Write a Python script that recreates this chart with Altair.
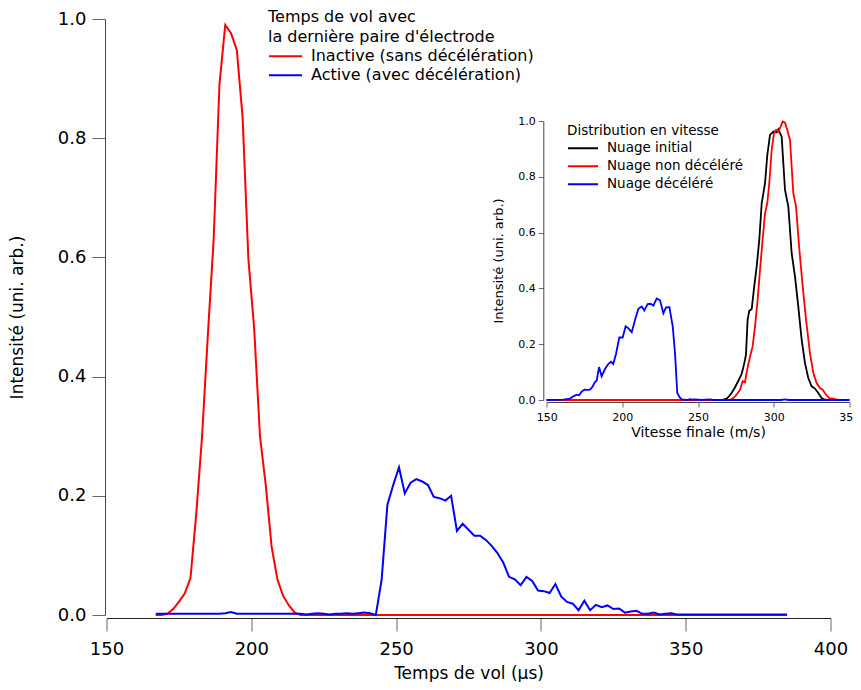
import altair as alt
import pandas as pd

# ---------------- main chart: time of flight ----------------
TIME_US = [167, 169, 171, 173, 175, 177, 179, 181, 183, 185, 187, 189, 191, 193, 195, 197, 199,
           201, 203, 205, 207, 209, 211, 213, 215, 217, 219, 221, 223, 225, 227, 229, 231, 233,
           235, 237, 239, 241, 243, 245, 247, 249, 251, 253, 255, 257, 259, 261, 263, 265, 267,
           269, 271, 273, 275, 277, 279, 281, 283, 285, 287, 289, 291, 293, 295, 297, 299, 301,
           303, 305, 307, 309, 311, 313, 315, 317, 319, 321, 323, 325, 327, 329, 331, 333, 335,
           337, 339, 341, 343, 345, 347, 349, 351, 353, 355, 357, 359, 361, 363, 365, 367, 369,
           371, 373, 375, 377, 379, 381, 383, 385]

INACTIVE = [0.0, 0.0, 0.002, 0.01, 0.022, 0.036, 0.062, 0.17, 0.30, 0.47, 0.63, 0.89, 0.99,
            0.976, 0.948, 0.835, 0.597, 0.48, 0.30, 0.218, 0.115, 0.06, 0.032, 0.016, 0.004,
            0.0, 0.0, 0.0, 0.0, 0.0, 0.0, 0.0, 0.0, 0.0, 0.0, 0.0, 0.0, 0.0, 0.0, 0.0, 0.0,
            0.0, 0.0, 0.0, 0.0, 0.0, 0.0, 0.0, 0.0, 0.0, 0.0, 0.0, 0.0, 0.0, 0.0, 0.0, 0.0,
            0.0, 0.0, 0.0, 0.0, 0.0, 0.0, 0.0, 0.0, 0.0, 0.0, 0.0, 0.0, 0.0, 0.0, 0.0, 0.0,
            0.0, 0.0, 0.0, 0.0, 0.0, 0.0, 0.0, 0.0, 0.0, 0.0, 0.0, 0.0, 0.0, 0.0, 0.0, 0.0,
            0.0, 0.0, 0.0, 0.0, 0.0, 0.0, 0.0, 0.0, 0.0, 0.0, 0.0, 0.0, 0.0, 0.0, 0.0, 0.0,
            0.0, 0.0, 0.0, 0.0, 0.0]

ACTIVE = [0.002, 0.002, 0.002, 0.002, 0.002, 0.002, 0.002, 0.002, 0.002, 0.002, 0.002, 0.002,
          0.003, 0.005, 0.002, 0.002, 0.002, 0.002, 0.002, 0.002, 0.002, 0.002, 0.002, 0.002,
          0.002, 0.002, 0.001, 0.002, 0.003, 0.002, 0.001, 0.002, 0.002, 0.003, 0.002, 0.003,
          0.004, 0.003, 0.0, 0.059, 0.185, 0.218, 0.248, 0.204, 0.222, 0.228, 0.224, 0.218,
          0.198, 0.196, 0.192, 0.200, 0.141, 0.153, 0.143, 0.133, 0.133, 0.126, 0.116, 0.104,
          0.088, 0.064, 0.060, 0.050, 0.064, 0.057, 0.041, 0.040, 0.037, 0.052, 0.031, 0.022,
          0.019, 0.008, 0.024, 0.008, 0.017, 0.013, 0.016, 0.010, 0.011, 0.004, 0.006, 0.007,
          0.002, 0.002, 0.004, 0.001, 0.002, 0.003, 0.001, 0.001, 0.001, 0.001, 0.001, 0.001,
          0.001, 0.001, 0.001, 0.001, 0.001, 0.001, 0.001, 0.001, 0.001, 0.001, 0.001, 0.001,
          0.001, 0.001]

MAIN_LABELS = ["Inactive (sans décélération)", "Active (avec décélération)"]
MAIN_COLORS = ["#ff0000", "#0000ff"]

# ---------------- inset: velocity distribution ----------------
INIT_V = [150, 266.7, 268.5, 270, 272.2, 274.4, 276.7, 278.9, 280.6, 281.7, 282.8, 283.9, 285.5,
          287, 288.8, 290.5, 292.1, 294.3, 295.8, 297.6, 299.8, 302, 303.1, 305.3, 307.5, 309.7,
          311.9, 314.1, 316.3, 318.5, 320.7, 322.9, 325.1, 327.3, 329.5, 331.7, 333.9, 336, 350]
INIT_I = [0, 0.001, 0.004, 0.01, 0.025, 0.045, 0.069, 0.094, 0.132, 0.162, 0.288, 0.32, 0.326,
          0.399, 0.479, 0.574, 0.705, 0.777, 0.878, 0.95, 0.962, 0.959, 0.97, 0.944, 0.753,
          0.693, 0.526, 0.443, 0.335, 0.216, 0.132, 0.079, 0.049, 0.041, 0.025, 0.007, 0.001,
          0, 0]

NONDEC_V = [150, 271.1, 273.3, 275.5, 277.8, 279.5, 281, 282.6, 284.4, 286.1, 287.7, 289.4, 291,
            292.7, 294.3, 295.8, 297.1, 298.7, 300.2, 301.5, 303.1, 304.6, 306, 307.5, 309,
            310.8, 313, 314.8, 317, 319.2, 321.4, 324, 326.2, 328.4, 330.6, 332.4, 334.6, 336.8,
            339, 341.2, 343, 350]
NONDEC_I = [0, 0, 0.007, 0.019, 0.037, 0.067, 0.063, 0.111, 0.156, 0.192, 0.264, 0.359, 0.467,
            0.574, 0.669, 0.705, 0.777, 0.896, 0.956, 0.968, 0.962, 0.98, 0.998, 0.994, 0.968,
            0.932, 0.741, 0.693, 0.538, 0.407, 0.288, 0.168, 0.097, 0.061, 0.043, 0.037, 0.019,
            0.007, 0.005, 0.002, 0, 0]

DEC_V = [150, 161, 165.4, 167.6, 169.8, 171.4, 173.1, 174.9, 176.9, 178.6, 180.2, 181.9, 183,
         184.6, 186.3, 188.5, 190.7, 192.5, 194, 195.8, 198, 200.2, 202.2, 204, 206.2, 208.4,
         210.6, 212.8, 214.5, 216.7, 218.7, 220.5, 222.7, 224.9, 227.1, 228.9, 231.1, 233.3,
         234.8, 236.3, 237.7, 239.2, 242.5, 244.7, 246.5, 248, 252, 258, 260, 305, 307.5,
         309.5, 350]
DEC_I = [0, 0.001, 0.005, 0.013, 0.019, 0.017, 0.03, 0.037, 0.036, 0.037, 0.047, 0.064, 0.069,
         0.118, 0.085, 0.111, 0.129, 0.137, 0.129, 0.165, 0.224, 0.224, 0.264, 0.257, 0.243,
         0.288, 0.327, 0.335, 0.321, 0.344, 0.345, 0.338, 0.364, 0.357, 0.311, 0.332, 0.333,
         0.264, 0.168, 0.025, 0.011, 0.002, 0, 0.003, 0.001, 0.002, 0, 0.002, 0, 0, 0.002, 0, 0]

INSET_LABELS = ["Nuage initial", "Nuage non décéléré", "Nuage décéléré"]
INSET_COLORS = ["#000000", "#ff0000", "#0000ff"]

main_df = pd.concat([
    pd.DataFrame({"t": TIME_US, "v": INACTIVE, "s": MAIN_LABELS[0]}),
    pd.DataFrame({"t": TIME_US, "v": ACTIVE, "s": MAIN_LABELS[1]}),
])
inset_df = pd.concat([
    pd.DataFrame({"vel": INIT_V, "i": INIT_I, "s": INSET_LABELS[0]}),
    pd.DataFrame({"vel": NONDEC_V, "i": NONDEC_I, "s": INSET_LABELS[1]}),
    pd.DataFrame({"vel": DEC_V, "i": DEC_I, "s": INSET_LABELS[2]}),
])

FONT = "DejaVu Sans"
W, H = 724, 596

main_x = alt.X("t:Q", scale=alt.Scale(domain=[150, 400], nice=False, zero=False),
               axis=alt.Axis(title="Temps de vol (μs)", values=[150, 200, 250, 300, 350, 400],
                             format=".0f", grid=False, offset=3, tickSize=13, labelFlush=False,
                             labelFontSize=18, labelFont=FONT, labelPadding=9,
                             titleFont=FONT, titleFontSize=17, titleFontWeight="normal",
                             titlePadding=7, domainColor="#222", tickColor="#666",
                             labelColor="#000", titleColor="#000"))
main_y = alt.Y("v:Q", scale=alt.Scale(domain=[0, 1], nice=False),
               axis=alt.Axis(title="Intensité (uni. arb.)", values=[0, 0.2, 0.4, 0.6, 0.8, 1.0],
                             format=".1f", grid=False, offset=1.5, tickSize=13, labelFlush=False,
                             labelFontSize=18, labelFont=FONT, labelPadding=6,
                             titleFont=FONT, titleFontSize=17, titleFontWeight="normal",
                             titlePadding=31, domainColor="#444", tickColor="#666",
                             labelColor="#000", titleColor="#000"))
main_color = alt.Color("s:N", scale=alt.Scale(domain=MAIN_LABELS, range=MAIN_COLORS),
                       legend=alt.Legend(orient="none", legendX=161.5, legendY=-10,
                                         title=["Temps de vol avec", "la dernière paire d'électrode"],
                                         titleFont=FONT, titleFontSize=16, titleFontWeight="normal",
                                         titleColor="#000", titleLineHeight=20, titlePadding=2,
                                         titleLimit=0, labelLimit=0,
                                         labelFont=FONT, labelFontSize=16, labelColor="#000",
                                         symbolType="stroke", symbolSize=1089, symbolStrokeWidth=2,
                                         clipHeight=18.4, rowPadding=0, labelOffset=8, padding=0))

base_main = alt.Chart(main_df).mark_line(strokeWidth=2).encode(x=main_x, y=main_y, color=main_color)
main_layer = alt.layer(
    base_main.transform_filter(alt.datum.s == MAIN_LABELS[0]),
    base_main.transform_filter(alt.datum.s == MAIN_LABELS[1]),
)

inset_x = alt.X("vel:Q", scale=alt.Scale(domain=[150, 350], range=[440.2, 742.8], nice=False, zero=False),
                axis=alt.Axis(title="Vitesse finale (m/s)", orient="bottom", offset=-213,
                              values=[150, 200, 250, 300, 350], format=".0f", grid=False,
                              tickSize=5, labelFlush=False, labelFontSize=11, labelFont=FONT,
                              labelPadding=4, titleFont=FONT, titleFontSize=14,
                              titleFontWeight="normal", titlePadding=3, domainColor="#444",
                              tickColor="#666", labelColor="#000", titleColor="#000"))
inset_y = alt.Y("i:Q", scale=alt.Scale(domain=[0, 1], range=[381, 102], nice=False),
                axis=alt.Axis(title="Intensité (uni. arb.)", orient="left", offset=-436.8,
                              values=[0, 0.2, 0.4, 0.6, 0.8, 1.0], format=".1f", grid=False,
                              tickSize=5, labelFlush=False, labelFontSize=11, labelFont=FONT,
                              labelPadding=3, titleFont=FONT, titleFontSize=13,
                              titleFontWeight="normal", titlePadding=12, domainColor="#444",
                              tickColor="#666", labelColor="#000", titleColor="#000"))
inset_color = alt.Color("s:N", scale=alt.Scale(domain=INSET_LABELS, range=INSET_COLORS),
                        legend=alt.Legend(orient="none", legendX=460.5, legendY=105,
                                          title="Distribution en vitesse",
                                          titleFont=FONT, titleFontSize=13.5, titleFontWeight="normal",
                                          titleColor="#000", titlePadding=2, titleLimit=0,
                                          labelLimit=0,
                                          labelFont=FONT, labelFontSize=13.5, labelColor="#000",
                                          symbolType="stroke", symbolSize=900, symbolStrokeWidth=2,
                                          clipHeight=17.7, rowPadding=0, labelOffset=8, padding=0))

base_inset = alt.Chart(inset_df).mark_line(strokeWidth=1.8).encode(x=inset_x, y=inset_y, color=inset_color)
inset_layer = alt.layer(
    base_inset.transform_filter(alt.datum.s == INSET_LABELS[0]),
    base_inset.transform_filter(alt.datum.s == INSET_LABELS[1]),
    base_inset.transform_filter(alt.datum.s == INSET_LABELS[2]),
)

chart = alt.layer(main_layer, inset_layer).resolve_scale(
    x="independent", y="independent", color="independent"
).properties(
    width=W, height=H,
    padding={"left": 98.5, "top": 11, "right": 22, "bottom": 67},
    autosize=alt.AutoSizeParams(type="none"),
    background="white",
).configure_view(stroke=None)

chart.save("out.html", embed_options={"renderer": "svg", "actions": False})
